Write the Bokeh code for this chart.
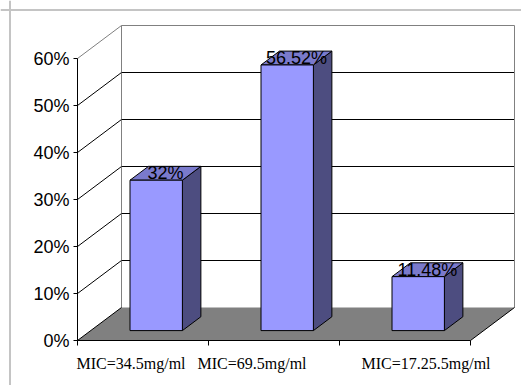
from bokeh.plotting import figure
from bokeh.models import Range1d, LinearAxis, FixedTicker, NumeralTickFormatter, Span
from bokeh.core.properties import value
from bokeh.embed import file_html
from bokeh.resources import INLINE

# ---- data ----
categories = ["MIC=34.5mg/ml", "MIC=69.5mg/ml", "MIC=17.25.5mg/ml"]
values = [0.32, 0.5652, 0.1148]
value_labels = ["32%", "56.52%", "11.48%"]
y_ticks = [0.0, 0.1, 0.2, 0.3, 0.4, 0.5, 0.6]

# ---- layout / style ----
W, H = 521, 385
X0_PX = 77          # canvas px of category axis origin
CAT_PX = 131        # px per category
Y0_PX = 340         # canvas px (from top) of value 0
UNIT_PX = 470       # px per 1.0 of value
DX = 44 / CAT_PX    # depth offset, x (category units)
DY = 33 / UNIT_PX   # depth offset, y (value units)
BAR_HALF = 0.2
D_FRONT, D_BACK = 0.30, 0.72
cat_label_dx = [-12, -22, 21]  # px offsets of category labels
BORDER_PX = 9.5
FRONT, TOP, SIDE = "#9999FF", "#7A7ACC", "#4D4D80"
FLOOR = "#808080"
WALL_EDGE = "#808080"

ncat = len(categories)
ymax = y_ticks[-1]

p = figure(width=W, height=H,
           x_range=Range1d(-X0_PX / CAT_PX, (W - X0_PX) / CAT_PX),
           y_range=Range1d(-(H - Y0_PX) / UNIT_PX, Y0_PX / UNIT_PX),
           output_backend="svg", toolbar_location=None,
           x_axis_type=None, y_axis_type=None, min_border=0)
p.outline_line_color = None
p.background_fill_color = "white"
p.border_fill_color = "white"

# outer chart border (left & top visible)
p.add_layout(Span(location=(BORDER_PX - X0_PX) / CAT_PX, dimension="height",
                  line_color="#c4c4c4", line_width=2))
p.add_layout(Span(location=(Y0_PX - BORDER_PX) / UNIT_PX, dimension="width",
                  line_color="#c4c4c4", line_width=2))

# back wall gridlines
inner = [t for t in y_ticks if 0 < t < ymax]
p.segment(x0=[DX] * len(inner), y0=[t + DY for t in inner],
          x1=[ncat + DX] * len(inner), y1=[t + DY for t in inner],
          line_color="black", line_width=1)
# back wall border
p.line(x=[DX, DX, ncat + DX, ncat + DX], y=[DY, ymax + DY, ymax + DY, DY],
       line_color=WALL_EDGE, line_width=1)

# floor
p.patch(x=[0, ncat, ncat + DX, DX], y=[0, 0, DY, DY],
        fill_color=FLOOR, line_color=None)
p.segment(x0=[ncat], y0=[0], x1=[ncat + DX], y1=[DY], line_color="black", line_width=1)

# side wall diagonals
low = [t for t in y_ticks if t < ymax]
p.segment(x0=[0] * len(low), y0=low, x1=[DX] * len(low), y1=[t + DY for t in low],
          line_color="black", line_width=1)
p.segment(x0=[0], y0=[ymax], x1=[DX], y1=[ymax + DY], line_color=WALL_EDGE, line_width=1)

# bars
side_xs, side_ys, top_xs, top_ys = [], [], [], []
fl, fr, fb, ft, lx, ly = [], [], [], [], [], []
for i, v in enumerate(values):
    c = i + 0.5
    xlf = c - BAR_HALF + D_FRONT * DX
    xrf = c + BAR_HALF + D_FRONT * DX
    xlb = c - BAR_HALF + D_BACK * DX
    xrb = c + BAR_HALF + D_BACK * DX
    ybf = D_FRONT * DY
    ytf = v + D_FRONT * DY
    ybb = D_BACK * DY
    ytb = v + D_BACK * DY
    side_xs.append([xrf, xrf, xrb, xrb]); side_ys.append([ybf, ytf, ytb, ybb])
    top_xs.append([xlf, xrf, xrb, xlb]); top_ys.append([ytf, ytf, ytb, ytb])
    fl.append(xlf); fr.append(xrf); fb.append(ybf); ft.append(ytf)
    lx.append(c + (D_FRONT + D_BACK) / 2 * DX)
    ly.append(v + (D_FRONT + D_BACK) / 2 * DY)

p.patches(xs=side_xs, ys=side_ys, fill_color=SIDE, line_color="black", line_width=1)
p.patches(xs=top_xs, ys=top_ys, fill_color=TOP, line_color="black", line_width=1)
p.quad(left=fl, right=fr, bottom=fb, top=ft, fill_color=FRONT, line_color="black", line_width=1)

# value labels
p.text(x=lx, y=ly, text=value_labels, text_align="center", text_baseline="alphabetic",
       text_font=value("Liberation Sans"), text_font_size="18px", text_color="black")

# axes
yaxis = LinearAxis(fixed_location=0, bounds=(0, ymax), ticker=FixedTicker(ticks=y_ticks),
                   formatter=NumeralTickFormatter(format="0%"))
yaxis.major_tick_out = 4
yaxis.major_tick_in = 0
yaxis.minor_tick_out = 0
yaxis.minor_tick_in = 0
yaxis.major_label_standoff = 4
yaxis.major_label_text_font = "Liberation Sans"
yaxis.major_label_text_font_size = "18px"
yaxis.major_label_text_color = "black"
yaxis.axis_line_color = "black"
yaxis.major_tick_line_color = "black"
p.add_layout(yaxis, "left")

xaxis = LinearAxis(fixed_location=0, bounds=(0, ncat),
                   ticker=FixedTicker(ticks=list(range(ncat + 1))),
                   major_label_overrides={k: "" for k in range(ncat + 1)})
xaxis.major_tick_out = 5
xaxis.major_tick_in = 0
xaxis.minor_tick_out = 0
xaxis.minor_tick_in = 0
xaxis.axis_line_color = "black"
xaxis.major_tick_line_color = "black"
p.add_layout(xaxis, "below")

# category labels
cx = [i + 0.5 for i in range(ncat)]
p.text(x=cx, y=[0] * ncat, text=categories, x_offset=cat_label_dx, y_offset=23,
       text_align="center", text_baseline="alphabetic",
       text_font=value("Liberation Serif"), text_font_size="16px", text_color="black")

open("out.html", "w").write(file_html(p, INLINE))
